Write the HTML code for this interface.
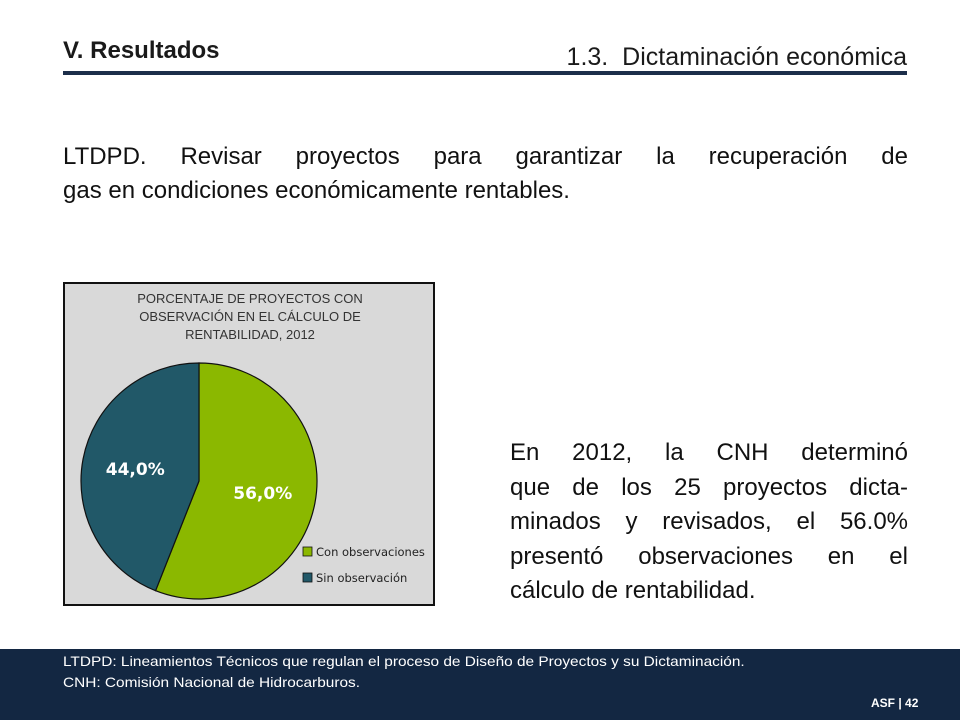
<!DOCTYPE html>
<html><head><meta charset="utf-8"><style>
body{margin:0;width:960px;height:720px;position:relative;background:#fff;font-family:"Liberation Sans",sans-serif;overflow:hidden}
.a{position:absolute}
.j{text-align:justify;text-align-last:justify;white-space:nowrap}
</style></head><body>
<div class="a" style="left:63px;top:37px;font-size:24px;font-weight:bold;color:#1a1a1a">V. Resultados</div>
<div class="a" style="right:53px;top:43px;font-size:25px;color:#1a1a1a">1.3.&nbsp; Dictaminación económica</div>
<div class="a" style="left:63px;top:71px;width:844px;height:4px;background:#1c2e4a"></div>
<div class="a" style="left:63px;top:140px;width:845px;font-size:24px;line-height:34px;color:#111">
<div class="j">LTDPD. Revisar proyectos para garantizar la recuperación de</div>
<div>gas en condiciones económicamente rentables.</div></div>
<div class="a" style="left:63px;top:282px;width:368px;height:320px;background:#d9d9d9;border:2px solid #111">
<svg width="368" height="320" id="pie">
<text x="185" y="19" text-anchor="middle" font-size="13" fill="#333" font-family="Liberation Sans, sans-serif">PORCENTAJE DE PROYECTOS CON</text>
<text x="185" y="37" text-anchor="middle" font-size="13" fill="#333" font-family="Liberation Sans, sans-serif">OBSERVACIÓN EN EL CÁLCULO DE</text>
<text x="185" y="55" text-anchor="middle" font-size="13" fill="#333" font-family="Liberation Sans, sans-serif">RENTABILIDAD, 2012</text>
</svg></div>
<div class="a" style="left:510px;top:436px;width:398px;font-size:24px;line-height:34.5px;color:#111">
<div class="j">En 2012, la CNH determinó</div>
<div class="j">que de los 25 proyectos dicta-</div>
<div class="j">minados y revisados, el 56.0%</div>
<div class="j">presentó observaciones en el</div>
<div>cálculo de rentabilidad.</div></div>
<div class="a" style="left:0;top:649px;width:960px;height:71px;background:#132742"></div>
<div class="a" style="left:63px;top:653px;font-size:14px;color:#fff;transform:scaleX(1.1);transform-origin:left">LTDPD: Lineamientos Técnicos que regulan el proceso de Diseño de Proyectos y su Dictaminación.</div>
<div class="a" style="left:63px;top:674px;font-size:14px;color:#fff;transform:scaleX(1.1);transform-origin:left">CNH: Comisión Nacional de Hidrocarburos.</div>
<div class="a" style="left:871px;top:696px;font-size:12px;font-weight:bold;color:#fff">ASF | 42</div>
<script>
const categories=["Con observaciones","Sin observación"];
const values=[56.0,44.0];
const labels=["56,0%","44,0%"];
const colors=["#8bb800","#215868"];
const svg=document.getElementById('pie');
const NS="http://www.w3.org/2000/svg";
const cx=134,cy=197,r=118;
const total=values.reduce((a,b)=>a+b,0);
let ang=-Math.PI/2;
function pt(a,rr){return [cx+rr*Math.cos(a),cy+rr*Math.sin(a)];}
values.forEach((v,i)=>{
 const span=v/total*2*Math.PI;const a2=ang+span;
 const p1=pt(ang,r),p2=pt(a2,r);
 const p=document.createElementNS(NS,'path');
 p.setAttribute('d',`M${cx},${cy}L${p1[0]},${p1[1]}A${r},${r} 0 ${span>Math.PI?1:0} 1 ${p2[0]},${p2[1]}Z`);
 p.setAttribute('fill',colors[i]);p.setAttribute('stroke','#111');p.setAttribute('stroke-width','1.2');
 
 
 svg.appendChild(p);
 const m=ang+span/2;const lp=pt(m,r*0.55);
 const t=document.createElementNS(NS,'text');
 t.setAttribute('x',lp[0]);t.setAttribute('y',lp[1]+6);t.setAttribute('text-anchor','middle');
 t.setAttribute('font-size','17');t.setAttribute('font-weight','bold');t.setAttribute('fill','#fff');
 t.setAttribute('font-family','DejaVu Sans, sans-serif');
 t.textContent=labels[i];
 
 
 svg.appendChild(t);
 ang=a2;
});
categories.forEach((c,i)=>{
 const y=272+i*26;
 const s=document.createElementNS(NS,'rect');
 s.setAttribute('x',238);s.setAttribute('y',y-9);s.setAttribute('width',9);s.setAttribute('height',9);
 s.setAttribute('fill',colors[i]);s.setAttribute('stroke','#111');s.setAttribute('stroke-width','0.8');
 
 
 svg.appendChild(s);
 const t=document.createElementNS(NS,'text');
 t.setAttribute('x',251);t.setAttribute('y',y);t.setAttribute('font-size','11.5');t.setAttribute('fill','#222');
 t.setAttribute('font-family','DejaVu Sans, sans-serif');
 t.textContent=c;
 
 
 svg.appendChild(t);
});
</script>
</body></html>
